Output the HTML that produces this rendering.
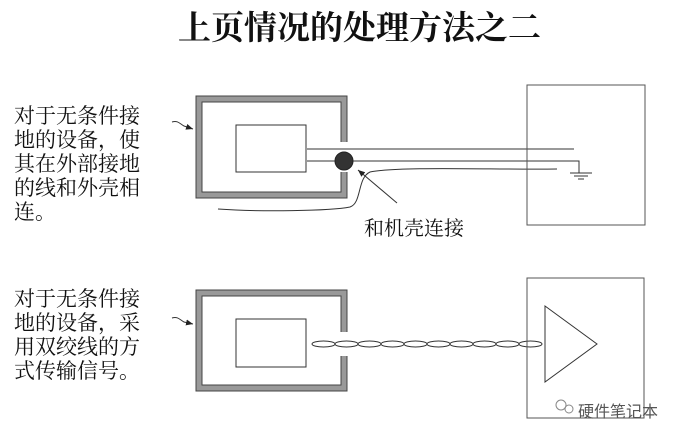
<!DOCTYPE html>
<html><head><meta charset="utf-8"><style>
body{margin:0;background:#fff;width:683px;height:437px;overflow:hidden;position:relative}
.t{position:absolute;font-family:"Liberation Serif","Noto Serif CJK SC",serif;color:#111}
</style></head><body>
<div class="t" style="left:178px;top:2px;font-size:33px;font-weight:bold;white-space:nowrap">上页情况的处理方法之二</div>
<div class="t" style="left:14px;top:104px;font-size:21px;line-height:24px;width:140px">对于无条件接<br>地的设备，使<br>其在外部接地<br>的线和外壳相<br>连。</div>
<div class="t" style="left:14px;top:287px;font-size:21px;line-height:24px;width:140px">对于无条件接<br>地的设备，采<br>用双绞线的方<br>式传输信号。</div>
<div class="t" style="left:364px;top:212px;font-size:20px;white-space:nowrap">和机壳连接</div>
<div class="t" style="left:578px;top:398px;font-size:16px;color:#555;font-family:'Liberation Sans','Noto Sans CJK SC',sans-serif;white-space:nowrap">硬件笔记本</div>
<svg width="683" height="437" style="position:absolute;left:0;top:0" fill="none" stroke="#333">
<defs><marker id="a" markerWidth="8" markerHeight="8" refX="7" refY="4" orient="auto"><path d="M0,1 L7,4 L0,7z" fill="#222" stroke="none"/></marker></defs>
<rect x="199" y="99" width="145" height="96" stroke="#999" stroke-width="6"/>
<rect x="196" y="96" width="151" height="102" stroke="#444" stroke-width="1"/>
<rect x="202" y="102" width="139" height="90" stroke="#444" stroke-width="1"/>
<rect x="340" y="142" width="9" height="30" fill="#fff" stroke="none"/>
<rect x="236" y="125" width="70" height="47" stroke-width="1"/>
<line x1="307" y1="149" x2="574" y2="149" stroke-width="1"/>
<polyline points="307,161 579,161 579,173" stroke-width="1"/>
<line x1="570" y1="173" x2="592" y2="173"/><line x1="574" y1="176" x2="588" y2="176"/><line x1="578" y1="179" x2="584" y2="179"/>
<circle cx="344" cy="161" r="9" fill="#333" stroke="#222"/>
<path d="M218,209 C260,212 330,211 350,207 C362,203 357,178 370,172 C400,166 500,170 557,169" stroke-width="1"/>
<line x1="397" y1="203" x2="358" y2="170" stroke-width="1" marker-end="url(#a)"/>
<path d="M172,122 C178,120 180,124 184,126 L193,129" stroke-width="1" marker-end="url(#a)"/>
<rect x="527" y="85" width="118" height="140" stroke="#555" stroke-width="1"/>
<rect x="199" y="293" width="145" height="95" stroke="#999" stroke-width="6"/>
<rect x="196" y="290" width="151" height="101" stroke="#444" stroke-width="1"/>
<rect x="202" y="296" width="139" height="89" stroke="#444" stroke-width="1"/>
<rect x="340" y="332" width="9" height="24" fill="#fff" stroke="none"/>
<rect x="236" y="319" width="70" height="48" stroke-width="1"/>
<g stroke-width="1">
<ellipse cx="323.5" cy="344" rx="11.5" ry="3"/><ellipse cx="346.5" cy="344" rx="11.5" ry="3"/><ellipse cx="369.5" cy="344" rx="11.5" ry="3"/><ellipse cx="392.5" cy="344" rx="11.5" ry="3"/><ellipse cx="415.5" cy="344" rx="11.5" ry="3"/><ellipse cx="438.5" cy="344" rx="11.5" ry="3"/><ellipse cx="461.5" cy="344" rx="11.5" ry="3"/><ellipse cx="484.5" cy="344" rx="11.5" ry="3"/><ellipse cx="507.5" cy="344" rx="11.5" ry="3"/><ellipse cx="530.5" cy="344" rx="11.5" ry="3"/>
</g>
<rect x="527" y="278" width="117" height="140" stroke="#555" stroke-width="1"/>
<polygon points="545,306 597,344 545,382" stroke-width="1" fill="#fff"/>
<path d="M172,318 C178,316 180,320 184,322 L193,324" stroke-width="1" marker-end="url(#a)"/>
<circle cx="561" cy="405" r="5" stroke="#888"/><circle cx="569" cy="409" r="4" stroke="#888"/>
</svg>
</body></html>
